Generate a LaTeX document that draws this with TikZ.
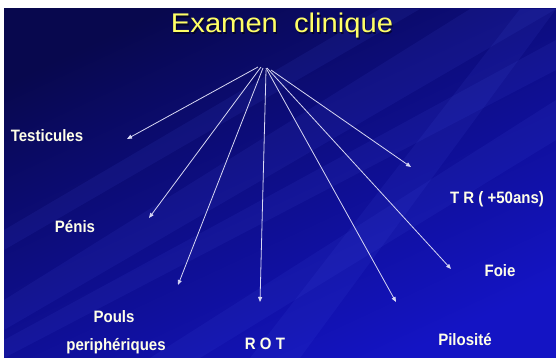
\documentclass[tikz,border=0pt]{standalone}
\usepackage{fontspec}
\setmainfont{Liberation Sans}
\usetikzlibrary{arrows.meta}
\definecolor{bgdark}{HTML}{08084E}
\definecolor{bgmid}{HTML}{0E0E8A}
\definecolor{bglight}{HTML}{1414C4}
\definecolor{streak}{HTML}{4A5AE8}
\definecolor{titleyel}{HTML}{FFFF66}
\definecolor{labcol}{HTML}{FFFFE8}
\definecolor{arrcol}{HTML}{D8D8F4}
\begin{document}
\begin{tikzpicture}[x=1pt,y=-1pt,
  lab/.style={text=labcol, font=\fontsize{16.5}{18}\selectfont\bfseries, anchor=base, inner sep=0pt, xscale=0.91},
  titlestyle/.style={font=\fontsize{27}{30}\selectfont, anchor=base, inner sep=0pt, xscale=1.08},
  arr/.style={draw=arrcol, line width=0.8pt, -{Triangle[length=5pt,width=4pt]}},
  streakfill/.style={fill=streak, fill opacity=0.10}]
\useasboundingbox (0,0) rectangle (556,358);
\fill[white] (0,0) rectangle (556,358);
\shade[top color=bgdark, bottom color=bglight, middle color=bgmid, shading angle=25] (4,9) rectangle (556,358);
% light streaks
\begin{scope}
\clip (4,9) rectangle (556,358);
\fill[streakfill] (556,9) -- (470,9) -- (4,300) -- (4,330) -- cycle;
\fill[streakfill] (556,40) -- (556,70) -- (4,358) -- (4,340) -- cycle;
\fill[streakfill] (556,9) -- (520,9) -- (250,358) -- (300,358) -- cycle;
\fill[streakfill] (556,100) -- (556,140) -- (200,358) -- (150,358) -- cycle;
\fill[streakfill] (420,9) -- (380,9) -- (4,230) -- (4,250) -- cycle;
\end{scope}
% title with soft shadow
\node[titlestyle, text=black, text opacity=0.55] (titleshadow) at (283.2,34.2) {Examen\ \ clinique};
\node[titlestyle, text=titleyel] (title) at (282,33) {Examen\ \ clinique};
% labels
\node[lab] (testicules) at (47,142) {Testicules};
\node[lab] (penis) at (75,232) {Pénis};
\node[lab] (pouls) at (114,322) {Pouls};
\node[lab] (peri) at (116,350) {periphériques};
\node[lab] (rot) at (265,349) {R O T};
\node[lab] (pilo) at (465,345) {Pilosité};
\node[lab] (foie) at (500,276) {Foie};
\node[lab] (tr) at (497,203) {T R ( +50ans)};
% connector points
\coordinate (s1) at (258,67);
\coordinate (s2) at (261,67);
\coordinate (s3) at (263,68);
\coordinate (s4) at (266,70);
\coordinate (s5) at (266,68);
\coordinate (s6) at (267,68);
\coordinate (s7) at (271,70);
\coordinate (e1) at (127,139);
\coordinate (e2) at (149,218);
\coordinate (e3) at (178,285);
\coordinate (e4) at (260,302);
\coordinate (e5) at (396,302);
\coordinate (e6) at (451,269);
\coordinate (e7) at (411,167);
\draw[arr] (s1) -- (e1);
\draw[arr] (s2) -- (e2);
\draw[arr] (s3) -- (e3);
\draw[arr] (s4) -- (e4);
\draw[arr] (s5) -- (e5);
\draw[arr] (s6) -- (e6);
\draw[arr] (s7) -- (e7);
\end{tikzpicture}
\end{document}
